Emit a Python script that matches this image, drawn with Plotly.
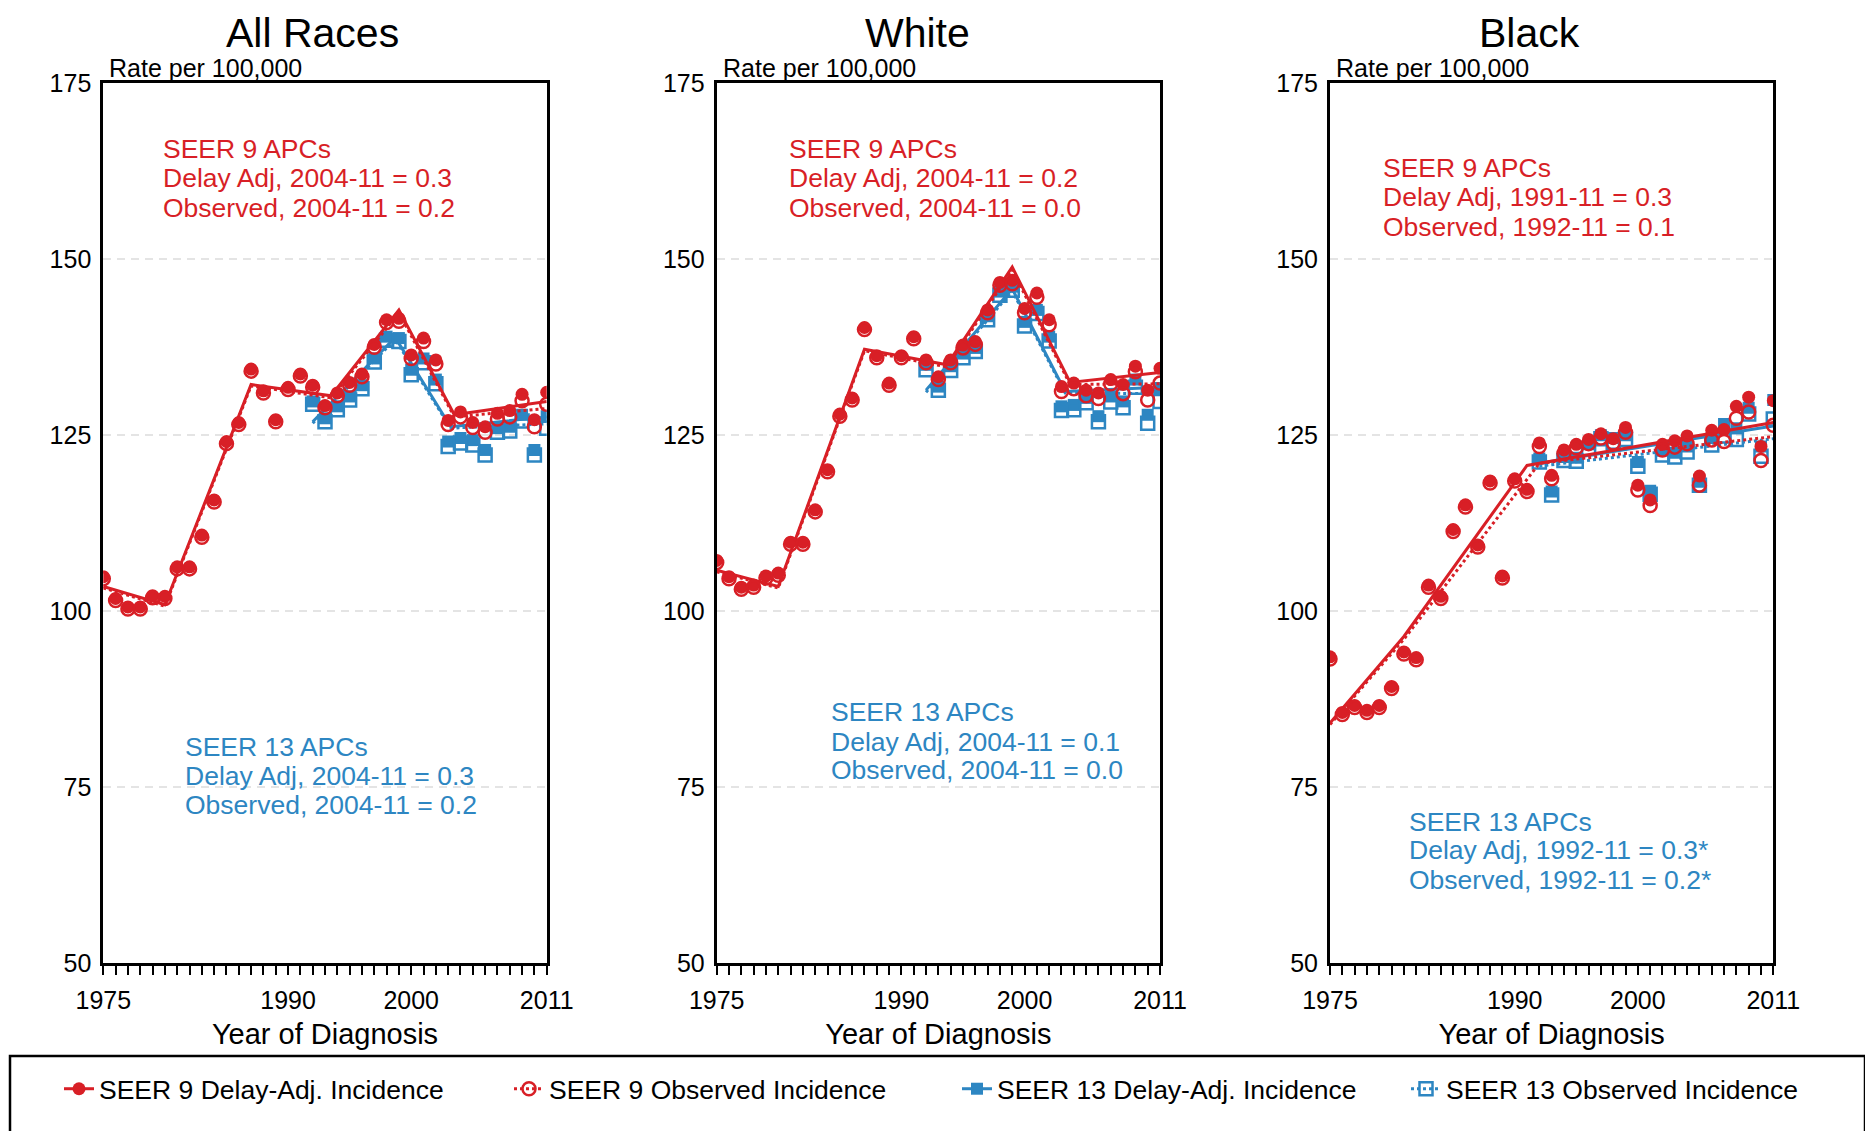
import plotly.graph_objects as go

W, H = 1873, 1131
RED = '#d81f26'
BLUE = '#2d86c2'
FONT = 'Liberation Sans, Arial, sans-serif'

# ---------------- data ----------------
years_s9 = list(range(1975, 2012))
years_s13 = list(range(1992, 2012))
panel_titles = ['All Races', 'White', 'Black']
x_ticks = [1975, 1990, 2000, 2011]
y_ticks = [50, 75, 100, 125, 150, 175]

# All Races
all_s9_delay = [104.9, 101.8, 100.6, 100.6, 102.2, 102.1, 106.3, 106.3, 110.8, 115.8, 124.1, 126.8,
                134.4, 131.3, 127.2, 131.8, 133.7, 132.1, 129.2, 131.0, 132.5, 133.7, 137.9, 141.4,
                141.6, 136.4, 138.8, 135.7, 127.1, 128.3, 126.8, 126.2, 128.1, 128.5, 130.8, 127.2, 131.1]
all_s9_obs = [104.6, 101.5, 100.3, 100.3, 101.9, 101.8, 106.0, 106.0, 110.5, 115.5, 123.8, 126.5,
              134.1, 131.0, 126.9, 131.5, 133.4, 131.8, 128.9, 130.6, 132.1, 133.3, 137.5, 141.0,
              141.2, 135.9, 138.3, 135.1, 126.5, 127.6, 126.1, 125.4, 127.3, 127.6, 129.9, 126.2, 129.4]
all_s13_delay = [129.8, 127.4, 129.1, 130.5, 132.1, 135.9, 139.0, 138.8, 134.3, 135.9, 132.9, 124.1,
                 124.6, 124.3, 122.9, 126.0, 126.2, 127.9, 122.9, 127.7]
all_s13_obs = [129.4, 126.9, 128.6, 130.0, 131.6, 135.4, 138.5, 138.3, 133.6, 135.3, 132.3, 123.4,
               123.9, 123.6, 122.2, 125.4, 125.6, 127.0, 122.2, 126.0]
all_fit_s9_delay_x = [1975, 1980, 1987, 1993.5, 1999, 2003.5, 2011]
all_fit_s9_delay_y = [103.5, 100.9, 132.2, 130.6, 142.8, 127.9, 129.8]
all_fit_s9_obs_x = [1975, 1980, 1987, 1993.5, 1999, 2003.5, 2011]
all_fit_s9_obs_y = [103.3, 100.7, 132.0, 130.3, 142.4, 127.6, 128.8]
all_fit_s13_delay_x = [1992, 1998.7, 2003.2, 2011]
all_fit_s13_delay_y = [126.9, 138.9, 126.2, 127.6]
all_fit_s13_obs_x = [1992, 1998.7, 2003.2, 2011]
all_fit_s13_obs_y = [126.7, 138.6, 126.0, 126.6]
all_s9_apc = ['SEER 9 APCs', 'Delay Adj, 2004-11 = 0.3', 'Observed, 2004-11 = 0.2']
all_s13_apc = ['SEER 13 APCs', 'Delay Adj, 2004-11 = 0.3', 'Observed, 2004-11 = 0.2']

# White
white_s9_delay = [107.2, 104.9, 103.4, 103.7, 105.0, 105.4, 109.8, 109.8, 114.4, 120.1, 128.0, 130.3,
                  140.3, 136.3, 132.4, 136.3, 139.0, 135.7, 133.3, 135.7, 137.8, 138.3, 142.8, 146.7,
                  147.0, 143.0, 145.2, 141.4, 131.9, 132.4, 131.4, 131.0, 132.9, 132.2, 134.8, 131.4, 134.5]
white_s9_obs = [106.9, 104.6, 103.1, 103.4, 104.7, 105.1, 109.5, 109.5, 114.1, 119.8, 127.7, 130.0,
                140.0, 136.0, 132.1, 136.0, 138.7, 135.3, 132.9, 135.3, 137.4, 137.9, 142.4, 146.3,
                146.5, 142.4, 144.6, 140.7, 131.2, 131.6, 130.6, 130.2, 132.3, 130.9, 134.0, 130.0, 132.4]
white_s13_delay = [135.0, 131.9, 134.8, 136.6, 137.4, 141.9, 145.4, 146.1, 141.1, 142.8, 139.0, 129.1,
                   129.3, 130.3, 127.7, 130.5, 129.8, 132.9, 127.9, 131.7]
white_s13_obs = [134.3, 131.4, 134.2, 136.0, 136.9, 141.4, 144.9, 145.6, 140.5, 142.3, 138.4, 128.5,
                 128.6, 129.6, 126.9, 129.7, 128.9, 131.8, 126.7, 129.8]
white_fit_s9_delay_x = [1975, 1980, 1987, 1993.7, 1999, 2003.7, 2011]
white_fit_s9_delay_y = [105.8, 103.5, 137.2, 135.0, 148.9, 132.5, 133.9]
white_fit_s9_obs_x = [1975, 1980, 1987, 1993.7, 1999, 2003.7, 2011]
white_fit_s9_obs_y = [105.6, 103.3, 137.0, 134.7, 148.5, 132.2, 132.3]
white_fit_s13_delay_x = [1992, 1999, 2003.3, 2011]
white_fit_s13_delay_y = [131.4, 145.8, 131.2, 131.8]
white_fit_s13_obs_x = [1992, 1999, 2003.3, 2011]
white_fit_s13_obs_y = [131.1, 145.5, 131.0, 130.9]
white_s9_apc = ['SEER 9 APCs', 'Delay Adj, 2004-11 = 0.2', 'Observed, 2004-11 = 0.0']
white_s13_apc = ['SEER 13 APCs', 'Delay Adj, 2004-11 = 0.1', 'Observed, 2004-11 = 0.0']

# Black
black_s9_delay = [93.5, 85.6, 86.6, 85.9, 86.6, 89.3, 94.2, 93.4, 103.7, 102.1, 111.6, 115.1,
                  109.4, 118.5, 105.0, 118.8, 117.3, 123.9, 119.3, 122.9, 123.7, 124.4, 125.2, 124.5,
                  126.1, 117.9, 115.8, 123.7, 124.2, 124.9, 119.2, 125.7, 125.8, 129.1, 130.4, 123.4, 129.9]
black_s9_obs = [93.2, 85.3, 86.3, 85.6, 86.3, 89.0, 93.9, 93.1, 103.4, 101.8, 111.3, 114.8,
                109.1, 118.2, 104.7, 118.5, 117.0, 123.4, 118.8, 122.4, 123.2, 123.8, 124.6, 123.9,
                125.4, 117.2, 115.0, 122.9, 123.3, 123.8, 117.9, 124.3, 124.1, 127.4, 128.3, 121.4, 126.4]
black_s13_delay = [121.7, 117.0, 121.9, 121.8, 123.7, 125.0, 124.6, 125.0, 121.2, 117.1, 122.8, 122.5,
                   123.4, 118.4, 124.6, 126.6, 126.0, 128.9, 123.4, 130.0]
black_s13_obs = [121.2, 116.5, 121.4, 121.3, 123.1, 124.5, 124.0, 124.4, 120.6, 116.6, 122.2, 121.9,
                 122.6, 117.9, 123.6, 124.9, 124.4, 128.0, 122.0, 127.3]
black_fit_s9_delay_x = [1975, 1981, 1991, 2011]
black_fit_s9_delay_y = [84.1, 96.4, 120.7, 126.8]
black_fit_s9_obs_x = [1975, 1981, 1992, 2011]
black_fit_s9_obs_y = [83.9, 96.0, 121.0, 124.8]
black_fit_s13_delay_x = [1992, 2011]
black_fit_s13_delay_y = [121.0, 126.3]
black_fit_s13_obs_x = [1992, 2011]
black_fit_s13_obs_y = [120.6, 124.5]
black_s9_apc = ['SEER 9 APCs', 'Delay Adj, 1991-11 = 0.3', 'Observed, 1992-11 = 0.1']
black_s13_apc = ['SEER 13 APCs', 'Delay Adj, 1992-11 = 0.3*', 'Observed, 1992-11 = 0.2*']

legend_names = ['SEER 9 Delay-Adj. Incidence', 'SEER 9 Observed Incidence',
                'SEER 13 Delay-Adj. Incidence', 'SEER 13 Observed Incidence']

# ---------------- layout helpers (pixel positions in the page) ----------------
OFF = 8  # page body margin

def fx(px):
    return (px - OFF) / W

def fy(py):
    return 1 - (py - OFF) / H

x_dom_px = [(103.3, 546.7), (716.7, 1160.0), (1330.0, 1773.3)]
y_top_px, y_bot_px = 83.3, 963.0

panels = [
    dict(s9d=all_s9_delay, s9o=all_s9_obs, s13d=all_s13_delay, s13o=all_s13_obs,
         f9dx=all_fit_s9_delay_x, f9dy=all_fit_s9_delay_y, f9ox=all_fit_s9_obs_x, f9oy=all_fit_s9_obs_y,
         f13dx=all_fit_s13_delay_x, f13dy=all_fit_s13_delay_y, f13ox=all_fit_s13_obs_x, f13oy=all_fit_s13_obs_y,
         t9=all_s9_apc, t13=all_s13_apc,
         t9pos=(161, [149, 178, 208]), t13pos=(183, [747, 776, 805])),
    dict(s9d=white_s9_delay, s9o=white_s9_obs, s13d=white_s13_delay, s13o=white_s13_obs,
         f9dx=white_fit_s9_delay_x, f9dy=white_fit_s9_delay_y, f9ox=white_fit_s9_obs_x, f9oy=white_fit_s9_obs_y,
         f13dx=white_fit_s13_delay_x, f13dy=white_fit_s13_delay_y, f13ox=white_fit_s13_obs_x, f13oy=white_fit_s13_obs_y,
         t9=white_s9_apc, t13=white_s13_apc,
         t9pos=(787, [149, 178, 208]), t13pos=(829, [712, 742, 770])),
    dict(s9d=black_s9_delay, s9o=black_s9_obs, s13d=black_s13_delay, s13o=black_s13_obs,
         f9dx=black_fit_s9_delay_x, f9dy=black_fit_s9_delay_y, f9ox=black_fit_s9_obs_x, f9oy=black_fit_s9_obs_y,
         f13dx=black_fit_s13_delay_x, f13dy=black_fit_s13_delay_y, f13ox=black_fit_s13_obs_x, f13oy=black_fit_s13_obs_y,
         t9=black_s9_apc, t13=black_s13_apc,
         t9pos=(1381, [168, 197, 227]), t13pos=(1407, [822, 850, 880])),
]
title_centers = [312, 917, 1529]
legend_text_px = [99, 549, 997, 1446]

fig = go.Figure()
annotations = []

for i, p in enumerate(panels):
    xa = 'x' if i == 0 else f'x{i+1}'
    ya = 'y' if i == 0 else f'y{i+1}'
    common = dict(xaxis=xa, yaxis=ya, showlegend=False, hoverinfo='skip')
    # SEER 13 fits
    fig.add_trace(go.Scatter(x=p['f13ox'], y=p['f13oy'], mode='lines',
                             line=dict(color=BLUE, width=3, dash='dot'), **common))
    fig.add_trace(go.Scatter(x=p['f13dx'], y=p['f13dy'], mode='lines',
                             line=dict(color=BLUE, width=3), **common))
    # SEER 13 points
    fig.add_trace(go.Scatter(x=years_s13, y=p['s13d'], mode='markers',
                             marker=dict(symbol='square', size=12, color=BLUE), **common))
    fig.add_trace(go.Scatter(x=years_s13, y=p['s13o'], mode='markers',
                             marker=dict(symbol='square-open', size=13, color=BLUE,
                                         line=dict(width=2.5, color=BLUE)), **common))
    # SEER 9 fits
    fig.add_trace(go.Scatter(x=p['f9ox'], y=p['f9oy'], mode='lines',
                             line=dict(color=RED, width=3, dash='dot'), **common))
    fig.add_trace(go.Scatter(x=p['f9dx'], y=p['f9dy'], mode='lines',
                             line=dict(color=RED, width=3), **common))
    # SEER 9 points
    fig.add_trace(go.Scatter(x=years_s9, y=p['s9d'], mode='markers',
                             marker=dict(symbol='circle', size=13, color=RED), **common))
    fig.add_trace(go.Scatter(x=years_s9, y=p['s9o'], mode='markers',
                             marker=dict(symbol='circle-open', size=13, color=RED,
                                         line=dict(width=2.5, color=RED)), **common))

    annotations.append(dict(text=panel_titles[i], x=fx(title_centers[i]), y=1.0,
                            xref='paper', yref='paper', xanchor='center', yanchor='top',
                            showarrow=False, font=dict(size=41, color='black', family=FONT)))
    annotations.append(dict(text='Rate per 100,000', x=fx(x_dom_px[i][0] + 4), y=fy(68),
                            xref='paper', yref='paper', xanchor='left', yanchor='middle',
                            showarrow=False, font=dict(size=25, color='black', family=FONT)))
    for txts, (lx, lys), col in ((p['t9'], p['t9pos'], RED), (p['t13'], p['t13pos'], BLUE)):
        for t, ly in zip(txts, lys):
            annotations.append(dict(text=t, x=fx(lx), y=fy(ly), xref='paper', yref='paper',
                                    xanchor='left', yanchor='middle', showarrow=False,
                                    font=dict(size=26.5, color=col, family=FONT)))

# legend entries: one small legend per entry so that nothing pushes the margins
leg_styles = [
    dict(line=dict(color=RED, width=3), marker=dict(symbol='circle', size=13, color=RED)),
    dict(line=dict(color=RED, width=3, dash='dot'),
         marker=dict(symbol='circle-open', size=13, color=RED, line=dict(width=2.5, color=RED))),
    dict(line=dict(color=BLUE, width=3), marker=dict(symbol='square', size=12, color=BLUE)),
    dict(line=dict(color=BLUE, width=3, dash='dot'),
         marker=dict(symbol='square-open', size=13, color=BLUE, line=dict(width=2.5, color=BLUE))),
]
legend_ids = ['legend', 'legend2', 'legend3', 'legend4']
for name, st, lid in zip(legend_names, leg_styles, legend_ids):
    fig.add_trace(go.Scatter(x=[None], y=[None], mode='lines+markers', name=name,
                             xaxis='x', yaxis='y', legend=lid, **st))

layout = dict(
    width=W, height=H, autosize=False,
    margin=dict(l=0, r=0, t=0, b=0, autoexpand=False),
    paper_bgcolor='white', plot_bgcolor='white',
    font=dict(family=FONT, size=25, color='black'),
    annotations=annotations,
    shapes=[dict(type='rect', xref='paper', yref='paper', x0=fx(10), x1=fx(1865),
                 y0=-0.05, y1=fy(1056), line=dict(color='black', width=2.5))],
)
for lid, tx in zip(legend_ids, legend_text_px):
    layout[lid] = dict(orientation='h', x=fx(tx - 40), y=fy(1089), xanchor='left', yanchor='middle',
                       font=dict(size=26.5, family=FONT, color='black'),
                       bgcolor='rgba(0,0,0,0)', borderwidth=0, itemwidth=30)

for i in range(3):
    sx = '' if i == 0 else str(i + 1)
    layout['xaxis' + sx] = dict(
        domain=[fx(x_dom_px[i][0]), fx(x_dom_px[i][1])], anchor='y' + sx, automargin=False,
        range=[1975, 2011], tickvals=x_ticks, ticktext=[str(v) for v in x_ticks],
        ticks='outside', ticklen=9, tickwidth=2, tickcolor='black',
        minor=dict(tickvals=years_s9, ticks='outside', ticklen=9, tickwidth=2, tickcolor='black'),
        showline=True, linewidth=3, linecolor='black', mirror=True, showgrid=False, zeroline=False,
        tickfont=dict(size=25, family=FONT), ticklabelstandoff=4,
        title=dict(text='Year of Diagnosis', font=dict(size=29, family=FONT), standoff=11),
    )
    layout['yaxis' + sx] = dict(
        domain=[fy(y_bot_px), fy(y_top_px)], anchor='x' + sx, automargin=False,
        range=[50, 175], tickvals=y_ticks, ticks='',
        showline=True, linewidth=3, linecolor='black', mirror=True, zeroline=False,
        showgrid=True, gridcolor='#e4e4e4', gridwidth=2, griddash='8px,6px',
        tickfont=dict(size=25, family=FONT), ticklabelstandoff=4,
    )

fig.update_layout(**layout)
fig.write_html("out.html")
